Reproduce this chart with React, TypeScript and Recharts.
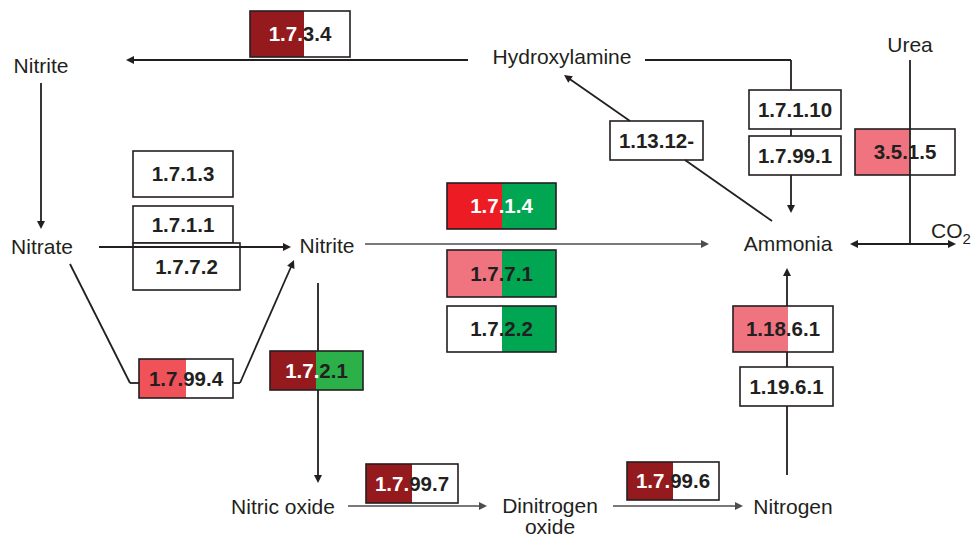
import React from "react";
import {
  ComposedChart,
  ReferenceArea,
  ReferenceLine,
  Scatter,
  XAxis,
  YAxis,
} from "recharts";

// compounds of the nitrogen metabolism map (centre of the first line, map units)
const compounds = [
  { name: "Nitrite", x: 41, y: 65 },
  { name: "Hydroxylamine", x: 562, y: 56 },
  { name: "Urea", x: 910, y: 44 },
  { name: "Nitrate", x: 42, y: 246 },
  { name: "Nitrite", x: 327, y: 245 },
  { name: "Ammonia", x: 788, y: 243 },
  { name: "CO", sub: "2", x: 951, y: 230 },
  { name: "Nitric oxide", x: 283, y: 506 },
  { name: "Dinitrogen\noxide", x: 550, y: 505 },
  { name: "Nitrogen", x: 793, y: 506 },
];

// enzyme boxes: EC number, extent, split point and the level on each half
const enzymes = [
  { ec: "1.7.3.4", x1: 250, x2: 350, y1: 11, y2: 57, split: 304, left: "high", right: "none", lightChars: 4 },
  { ec: "1.7.1.3", x1: 133, x2: 233, y1: 151, y2: 197, split: 183, left: "none", right: "none", lightChars: 0 },
  { ec: "1.7.1.1", x1: 133, x2: 233, y1: 206, y2: 243, split: 183, left: "none", right: "none", lightChars: 0 },
  { ec: "1.7.7.2", x1: 133, x2: 240, y1: 243, y2: 290, split: 186, left: "none", right: "none", lightChars: 0 },
  { ec: "1.7.1.4", x1: 447, x2: 556, y1: 183, y2: 229, split: 502, left: "up", right: "down", lightChars: 7 },
  { ec: "1.7.7.1", x1: 447, x2: 556, y1: 250, y2: 297, split: 502, left: "low", right: "down", lightChars: 0 },
  { ec: "1.7.2.2", x1: 447, x2: 556, y1: 306, y2: 352, split: 502, left: "none", right: "down", lightChars: 0 },
  { ec: "1.7.99.4", x1: 139, x2: 233, y1: 359, y2: 398, split: 186, left: "mid", right: "none", lightChars: 0 },
  { ec: "1.7.2.1", x1: 270, x2: 363, y1: 351, y2: 390, split: 316, left: "high", right: "down2", lightChars: 4 },
  { ec: "1.7.99.7", x1: 366, x2: 458, y1: 464, y2: 503, split: 412, left: "high", right: "none", lightChars: 4 },
  { ec: "1.7.99.6", x1: 627, x2: 719, y1: 462, y2: 500, split: 673, left: "high", right: "none", lightChars: 4 },
  { ec: "1.18.6.1", x1: 733, x2: 833, y1: 306, y2: 352, split: 788, left: "low", right: "none", lightChars: 0 },
  { ec: "1.19.6.1", x1: 740, x2: 833, y1: 367, y2: 406, split: 786, left: "none", right: "none", lightChars: 0 },
  { ec: "1.13.12-", x1: 610, x2: 703, y1: 121, y2: 160, split: 656, left: "none", right: "none", lightChars: 0 },
  { ec: "1.7.1.10", x1: 749, x2: 841, y1: 90, y2: 129, split: 795, left: "none", right: "none", lightChars: 0 },
  { ec: "1.7.99.1", x1: 749, x2: 841, y1: 136, y2: 175, split: 795, left: "none", right: "none", lightChars: 0 },
  { ec: "3.5.1.5", x1: 855, x2: 955, y1: 129, y2: 175, split: 910, left: "low", right: "none", lightChars: 0 },
];

// reaction edges; "over" ones are drawn above the boxes
const edges = [
  { from: [468, 60], to: [126, 60], head: "end" },
  { from: [645, 60], to: [791, 60], head: "none" },
  { from: [791, 60], to: [791, 90], head: "none" },
  { from: [791, 129], to: [791, 136], head: "none" },
  { from: [791, 175], to: [791, 213], head: "end" },
  { from: [772, 221], to: [685, 160], head: "none" },
  { from: [630, 121], to: [564, 75], head: "end" },
  { from: [850, 244], to: [956, 244], head: "both" },
  { from: [41, 83], to: [41, 229], head: "end" },
  { from: [365, 244], to: [709, 244], head: "end", grey: true },
  { from: [70, 264], to: [130, 383], head: "none" },
  { from: [130, 383], to: [139, 383], head: "none" },
  { from: [233, 383], to: [240, 383], head: "none" },
  { from: [240, 383], to: [294, 260], head: "end" },
  { from: [318, 283], to: [318, 351], head: "none" },
  { from: [318, 390], to: [318, 483], head: "end" },
  { from: [348, 506], to: [487, 506], head: "end", grey: true },
  { from: [613, 506], to: [743, 506], head: "end", grey: true },
  { from: [787, 475], to: [787, 406], head: "none" },
  { from: [787, 367], to: [787, 352], head: "none" },
  { from: [787, 306], to: [787, 268], head: "end" },
];

const overEdges = [
  { from: [910, 60], to: [910, 244], head: "none" },
  { from: [99, 247], to: [291, 247], head: "end" },
];

const INK = "#231f20";
const GREY = "#4d4d4f";
const FONT = "'Liberation Sans', Arial, Helvetica, sans-serif";

const levelColors: Record<string, string> = {
  none: "#ffffff",
  high: "#951a1d",
  up: "#ed1c24",
  mid: "#f0525a",
  low: "#f07480",
  down: "#00a651",
  down2: "#2bb04a",
};

type Edge = { from: number[]; to: number[]; head: string; grey?: boolean };
type Enzyme = (typeof enzymes)[number];

function headPoints(x1: number, y1: number, x2: number, y2: number) {
  const len = Math.hypot(x2 - x1, y2 - y1) || 1;
  const ux = (x2 - x1) / len;
  const uy = (y2 - y1) / len;
  const L = 8;
  const W = 4;
  const bx = x2 - ux * L;
  const by = y2 - uy * L;
  return `${x2},${y2} ${bx - uy * W},${by + ux * W} ${bx + uy * W},${by - ux * W}`;
}

function EdgeShape(props: any, edge: Edge) {
  const { x1, y1, x2, y2 } = props;
  const color = edge.grey ? GREY : INK;
  const ends = edge.head !== "none";
  const both = edge.head === "both";
  const shorten = (ax: number, ay: number, bx: number, by: number) => {
    const l = Math.hypot(bx - ax, by - ay) || 1;
    return [bx - ((bx - ax) / l) * 6, by - ((by - ay) / l) * 6];
  };
  const [ex, ey] = ends ? shorten(x1, y1, x2, y2) : [x2, y2];
  const [sx, sy] = both ? shorten(x2, y2, x1, y1) : [x1, y1];
  return (
    <g>
      <line x1={sx} y1={sy} x2={ex} y2={ey} stroke={color} strokeWidth={edge.grey ? 1.5 : 1.8} />
      {ends && <polygon points={headPoints(x1, y1, x2, y2)} fill={color} />}
      {both && <polygon points={headPoints(x2, y2, x1, y1)} fill={color} />}
    </g>
  );
}

function EnzymeBox(props: any, e: Enzyme) {
  const { x, y, width, height } = props;
  const sw = ((e.split - e.x1) / (e.x2 - e.x1)) * width;
  const lightText = e.ec.slice(0, e.lightChars);
  const darkText = e.ec.slice(e.lightChars);
  return (
    <g>
      <rect x={x} y={y} width={sw} height={height} fill={levelColors[e.left]} />
      <rect x={x + sw} y={y} width={width - sw} height={height} fill={levelColors[e.right]} />
      <rect x={x} y={y} width={width} height={height} fill="none" stroke={INK} strokeWidth={1.6} />
      <text
        x={x + width / 2}
        y={y + height / 2}
        dy="0.36em"
        textAnchor="middle"
        fontFamily={FONT}
        fontWeight="bold"
        fontSize={20.5}
      >
        {lightText && <tspan fill="#ffffff">{lightText}</tspan>}
        {darkText && <tspan fill={INK}>{darkText}</tspan>}
      </text>
    </g>
  );
}

function CompoundLabel(props: any) {
  const { cx, cy, payload } = props;
  const lines = String(payload.name).split("\n");
  return (
    <text
      x={cx}
      y={cy}
      dy="0.36em"
      textAnchor="middle"
      fontFamily={FONT}
      fontSize={21}
      fill={INK}
    >
      {lines.length > 1
        ? lines.map((ln, i) => (
            <tspan key={i} x={cx} dy={i === 0 ? "0.36em" : 21}>
              {ln}
            </tspan>
          ))
        : payload.name}
      {payload.sub && (
        <tspan fontSize={15} dy="6">
          {payload.sub}
        </tspan>
      )}
    </text>
  );
}

function renderEdges(list: Edge[], key: string) {
  return list.map((edge, i) => (
    <ReferenceLine
      key={`${key}-${i}`}
      segment={[
        { x: edge.from[0], y: edge.from[1] },
        { x: edge.to[0], y: edge.to[1] },
      ]}
      ifOverflow="visible"
      shape={(p: any) => EdgeShape(p, edge)}
    />
  ));
}

export default function App() {
  return (
    <div style={{ position: "absolute", left: 0, top: 0, width: 974, height: 538, background: "#fff" }}>
      <ComposedChart width={974} height={538} margin={{ top: 0, right: 0, bottom: 0, left: 0 }}>
        <XAxis type="number" dataKey="x" domain={[0, 974]} allowDataOverflow hide />
        <YAxis type="number" dataKey="y" domain={[0, 538]} allowDataOverflow reversed hide />
        {renderEdges(edges, "e")}
        {enzymes.map((e) => (
          <ReferenceArea
            key={e.ec}
            x1={e.x1}
            x2={e.x2}
            y1={e.y1}
            y2={e.y2}
            ifOverflow="visible"
            shape={(p: any) => EnzymeBox(p, e)}
          />
        ))}
        {renderEdges(overEdges, "o")}
        <Scatter data={compounds} shape={CompoundLabel} isAnimationActive={false} />
      </ComposedChart>
    </div>
  );
}
